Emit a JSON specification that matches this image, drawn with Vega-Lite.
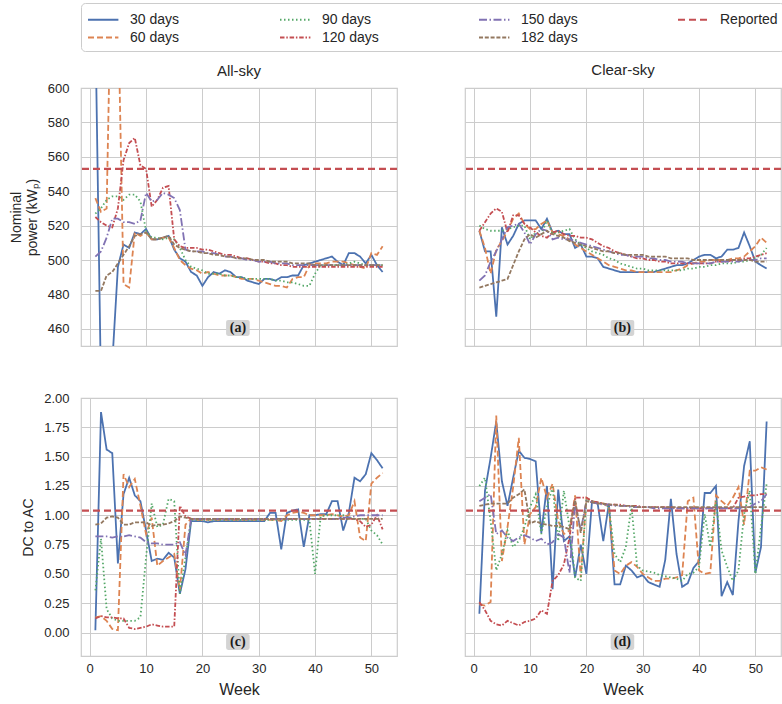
{
  "$schema": "https://vega.github.io/schema/vega-lite/v6.json",
  "padding": {"left": 8, "top": 2, "right": 4, "bottom": 4},
  "config": {
    "font": "Liberation Sans",
    "view": {"stroke": "#cccccc", "strokeWidth": 1.2},
    "axis": {
      "gridColor": "#cccccc", "gridWidth": 1, "domain": false, "ticks": false, "labelOverlap": false, "labelFlush": false,
      "labelFont": "Liberation Sans", "labelFontSize": 13, "labelColor": "#262626",
      "titleFont": "Liberation Sans", "titleFontSize": 14, "titleFontWeight": "normal", "titleColor": "#262626"
    },
    "title": {"font": "Liberation Sans", "fontSize": 15, "fontWeight": "normal", "color": "#262626", "frame": "group"},
    "legend": {"labelFont": "Liberation Sans", "labelColor": "#262626"}
  },
  "datasets": {
    "a": [
      {"s":"30 days","w":1,"v":637},{"s":"30 days","w":2,"v":425},{"s":"30 days","w":3,"v":415},{"s":"30 days","w":4,"v":440},{"s":"30 days","w":5,"v":496},{"s":"30 days","w":6,"v":509},{"s":"30 days","w":7,"v":507},{"s":"30 days","w":8,"v":516},{"s":"30 days","w":9,"v":515},{"s":"30 days","w":10,"v":518},
      {"s":"30 days","w":11,"v":512},{"s":"30 days","w":12,"v":512},{"s":"30 days","w":13,"v":513},{"s":"30 days","w":14,"v":514},{"s":"30 days","w":15,"v":506},{"s":"30 days","w":16,"v":501},{"s":"30 days","w":17,"v":499},{"s":"30 days","w":18,"v":493},{"s":"30 days","w":19,"v":491},{"s":"30 days","w":20,"v":485},
      {"s":"30 days","w":21,"v":490},{"s":"30 days","w":22,"v":493},{"s":"30 days","w":23,"v":492},{"s":"30 days","w":24,"v":494},{"s":"30 days","w":25,"v":493},{"s":"30 days","w":26,"v":490},{"s":"30 days","w":27,"v":490},{"s":"30 days","w":28,"v":488},{"s":"30 days","w":29,"v":487},{"s":"30 days","w":30,"v":486},
      {"s":"30 days","w":31,"v":489},{"s":"30 days","w":32,"v":489},{"s":"30 days","w":33,"v":488},{"s":"30 days","w":34,"v":490},{"s":"30 days","w":35,"v":490},{"s":"30 days","w":36,"v":491},{"s":"30 days","w":37,"v":491},{"s":"30 days","w":38,"v":497},{"s":"30 days","w":39,"v":498},{"s":"30 days","w":40,"v":499},
      {"s":"30 days","w":41,"v":500},{"s":"30 days","w":42,"v":501},{"s":"30 days","w":43,"v":502},{"s":"30 days","w":44,"v":499},{"s":"30 days","w":45,"v":497},{"s":"30 days","w":46,"v":504},{"s":"30 days","w":47,"v":504},{"s":"30 days","w":48,"v":502},{"s":"30 days","w":49,"v":498},{"s":"30 days","w":50,"v":503},
      {"s":"30 days","w":51,"v":497},{"s":"30 days","w":52,"v":493},
      {"s":"60 days","w":1,"v":536},{"s":"60 days","w":2,"v":528},{"s":"60 days","w":3,"v":530},{"s":"60 days","w":4,"v":700},{"s":"60 days","w":5,"v":652},{"s":"60 days","w":6,"v":486},{"s":"60 days","w":7,"v":484},{"s":"60 days","w":8,"v":516},{"s":"60 days","w":9,"v":514},{"s":"60 days","w":10,"v":516},
      {"s":"60 days","w":11,"v":512},{"s":"60 days","w":12,"v":512},{"s":"60 days","w":13,"v":513},{"s":"60 days","w":14,"v":513},{"s":"60 days","w":15,"v":507},{"s":"60 days","w":16,"v":500},{"s":"60 days","w":17,"v":497},{"s":"60 days","w":18,"v":495},{"s":"60 days","w":19,"v":494},{"s":"60 days","w":20,"v":492},
      {"s":"60 days","w":21,"v":493},{"s":"60 days","w":22,"v":492},{"s":"60 days","w":23,"v":491},{"s":"60 days","w":24,"v":491},{"s":"60 days","w":25,"v":491},{"s":"60 days","w":26,"v":490},{"s":"60 days","w":27,"v":489},{"s":"60 days","w":28,"v":489},{"s":"60 days","w":29,"v":489},{"s":"60 days","w":30,"v":488},
      {"s":"60 days","w":31,"v":487},{"s":"60 days","w":32,"v":486},{"s":"60 days","w":33,"v":485},{"s":"60 days","w":34,"v":485},{"s":"60 days","w":35,"v":484},{"s":"60 days","w":36,"v":489},{"s":"60 days","w":37,"v":490},{"s":"60 days","w":38,"v":490},{"s":"60 days","w":39,"v":497},{"s":"60 days","w":40,"v":498},
      {"s":"60 days","w":41,"v":498},{"s":"60 days","w":42,"v":498},{"s":"60 days","w":43,"v":499},{"s":"60 days","w":44,"v":499},{"s":"60 days","w":45,"v":499},{"s":"60 days","w":46,"v":498},{"s":"60 days","w":47,"v":497},{"s":"60 days","w":48,"v":496},{"s":"60 days","w":49,"v":495},{"s":"60 days","w":50,"v":504},
      {"s":"60 days","w":51,"v":503},{"s":"60 days","w":52,"v":508},
      {"s":"90 days","w":1,"v":527},{"s":"90 days","w":2,"v":530},{"s":"90 days","w":3,"v":535},{"s":"90 days","w":4,"v":537},{"s":"90 days","w":5,"v":537},{"s":"90 days","w":6,"v":535},{"s":"90 days","w":7,"v":538},{"s":"90 days","w":8,"v":538},{"s":"90 days","w":9,"v":534},{"s":"90 days","w":10,"v":517},
      {"s":"90 days","w":11,"v":513},{"s":"90 days","w":12,"v":513},{"s":"90 days","w":13,"v":512},{"s":"90 days","w":14,"v":513},{"s":"90 days","w":15,"v":512},{"s":"90 days","w":16,"v":507},{"s":"90 days","w":17,"v":500},{"s":"90 days","w":18,"v":496},{"s":"90 days","w":19,"v":495},{"s":"90 days","w":20,"v":494},
      {"s":"90 days","w":21,"v":492},{"s":"90 days","w":22,"v":492},{"s":"90 days","w":23,"v":492},{"s":"90 days","w":24,"v":491},{"s":"90 days","w":25,"v":491},{"s":"90 days","w":26,"v":490},{"s":"90 days","w":27,"v":490},{"s":"90 days","w":28,"v":489},{"s":"90 days","w":29,"v":489},{"s":"90 days","w":30,"v":489},
      {"s":"90 days","w":31,"v":489},{"s":"90 days","w":32,"v":489},{"s":"90 days","w":33,"v":488},{"s":"90 days","w":34,"v":488},{"s":"90 days","w":35,"v":487},{"s":"90 days","w":36,"v":487},{"s":"90 days","w":37,"v":486},{"s":"90 days","w":38,"v":485},{"s":"90 days","w":39,"v":485},{"s":"90 days","w":40,"v":492},
      {"s":"90 days","w":41,"v":497},{"s":"90 days","w":42,"v":497},{"s":"90 days","w":43,"v":497},{"s":"90 days","w":44,"v":497},{"s":"90 days","w":45,"v":497},{"s":"90 days","w":46,"v":498},{"s":"90 days","w":47,"v":499},{"s":"90 days","w":48,"v":498},{"s":"90 days","w":49,"v":497},{"s":"90 days","w":50,"v":497},
      {"s":"90 days","w":51,"v":497},{"s":"90 days","w":52,"v":497},
      {"s":"120 days","w":1,"v":525},{"s":"120 days","w":2,"v":522},{"s":"120 days","w":3,"v":520},{"s":"120 days","w":4,"v":519},{"s":"120 days","w":5,"v":530},{"s":"120 days","w":6,"v":558},{"s":"120 days","w":7,"v":568},{"s":"120 days","w":8,"v":571},{"s":"120 days","w":9,"v":555},{"s":"120 days","w":10,"v":553},
      {"s":"120 days","w":11,"v":531},{"s":"120 days","w":12,"v":535},{"s":"120 days","w":13,"v":542},{"s":"120 days","w":14,"v":543},{"s":"120 days","w":15,"v":512},{"s":"120 days","w":16,"v":508},{"s":"120 days","w":17,"v":507},{"s":"120 days","w":18,"v":507},{"s":"120 days","w":19,"v":507},{"s":"120 days","w":20,"v":506},
      {"s":"120 days","w":21,"v":506},{"s":"120 days","w":22,"v":505},{"s":"120 days","w":23,"v":504},{"s":"120 days","w":24,"v":503},{"s":"120 days","w":25,"v":503},{"s":"120 days","w":26,"v":502},{"s":"120 days","w":27,"v":501},{"s":"120 days","w":28,"v":501},{"s":"120 days","w":29,"v":500},{"s":"120 days","w":30,"v":499},
      {"s":"120 days","w":31,"v":499},{"s":"120 days","w":32,"v":498},{"s":"120 days","w":33,"v":498},{"s":"120 days","w":34,"v":497},{"s":"120 days","w":35,"v":497},{"s":"120 days","w":36,"v":496},{"s":"120 days","w":37,"v":496},{"s":"120 days","w":38,"v":496},{"s":"120 days","w":39,"v":496},{"s":"120 days","w":40,"v":496},
      {"s":"120 days","w":41,"v":496},{"s":"120 days","w":42,"v":496},{"s":"120 days","w":43,"v":496},{"s":"120 days","w":44,"v":496},{"s":"120 days","w":45,"v":496},{"s":"120 days","w":46,"v":496},{"s":"120 days","w":47,"v":496},{"s":"120 days","w":48,"v":496},{"s":"120 days","w":49,"v":496},{"s":"120 days","w":50,"v":496},
      {"s":"120 days","w":51,"v":496},{"s":"120 days","w":52,"v":496},
      {"s":"150 days","w":1,"v":502},{"s":"150 days","w":2,"v":505},{"s":"150 days","w":3,"v":513},{"s":"150 days","w":4,"v":524},{"s":"150 days","w":5,"v":524},{"s":"150 days","w":6,"v":522},{"s":"150 days","w":7,"v":522},{"s":"150 days","w":8,"v":521},{"s":"150 days","w":9,"v":523},{"s":"150 days","w":10,"v":539},
      {"s":"150 days","w":11,"v":534},{"s":"150 days","w":12,"v":535},{"s":"150 days","w":13,"v":539},{"s":"150 days","w":14,"v":538},{"s":"150 days","w":15,"v":536},{"s":"150 days","w":16,"v":529},{"s":"150 days","w":17,"v":506},{"s":"150 days","w":18,"v":505},{"s":"150 days","w":19,"v":505},{"s":"150 days","w":20,"v":505},
      {"s":"150 days","w":21,"v":504},{"s":"150 days","w":22,"v":504},{"s":"150 days","w":23,"v":503},{"s":"150 days","w":24,"v":502},{"s":"150 days","w":25,"v":502},{"s":"150 days","w":26,"v":501},{"s":"150 days","w":27,"v":501},{"s":"150 days","w":28,"v":500},{"s":"150 days","w":29,"v":500},{"s":"150 days","w":30,"v":499},
      {"s":"150 days","w":31,"v":499},{"s":"150 days","w":32,"v":499},{"s":"150 days","w":33,"v":498},{"s":"150 days","w":34,"v":498},{"s":"150 days","w":35,"v":498},{"s":"150 days","w":36,"v":497},{"s":"150 days","w":37,"v":497},{"s":"150 days","w":38,"v":497},{"s":"150 days","w":39,"v":497},{"s":"150 days","w":40,"v":497},
      {"s":"150 days","w":41,"v":497},{"s":"150 days","w":42,"v":497},{"s":"150 days","w":43,"v":497},{"s":"150 days","w":44,"v":497},{"s":"150 days","w":45,"v":497},{"s":"150 days","w":46,"v":497},{"s":"150 days","w":47,"v":497},{"s":"150 days","w":48,"v":497},{"s":"150 days","w":49,"v":497},{"s":"150 days","w":50,"v":497},
      {"s":"150 days","w":51,"v":497},{"s":"150 days","w":52,"v":497},
      {"s":"182 days","w":1,"v":482},{"s":"182 days","w":2,"v":482},{"s":"182 days","w":3,"v":491},{"s":"182 days","w":4,"v":493},{"s":"182 days","w":5,"v":498},{"s":"182 days","w":6,"v":503},{"s":"182 days","w":7,"v":508},{"s":"182 days","w":8,"v":514},{"s":"182 days","w":9,"v":515},{"s":"182 days","w":10,"v":516},
      {"s":"182 days","w":11,"v":512},{"s":"182 days","w":12,"v":512},{"s":"182 days","w":13,"v":513},{"s":"182 days","w":14,"v":514},{"s":"182 days","w":15,"v":509},{"s":"182 days","w":16,"v":507},{"s":"182 days","w":17,"v":506},{"s":"182 days","w":18,"v":505},{"s":"182 days","w":19,"v":505},{"s":"182 days","w":20,"v":504},
      {"s":"182 days","w":21,"v":504},{"s":"182 days","w":22,"v":503},{"s":"182 days","w":23,"v":503},{"s":"182 days","w":24,"v":502},{"s":"182 days","w":25,"v":502},{"s":"182 days","w":26,"v":501},{"s":"182 days","w":27,"v":501},{"s":"182 days","w":28,"v":501},{"s":"182 days","w":29,"v":500},{"s":"182 days","w":30,"v":500},
      {"s":"182 days","w":31,"v":500},{"s":"182 days","w":32,"v":499},{"s":"182 days","w":33,"v":499},{"s":"182 days","w":34,"v":499},{"s":"182 days","w":35,"v":499},{"s":"182 days","w":36,"v":498},{"s":"182 days","w":37,"v":498},{"s":"182 days","w":38,"v":498},{"s":"182 days","w":39,"v":498},{"s":"182 days","w":40,"v":497},
      {"s":"182 days","w":41,"v":497},{"s":"182 days","w":42,"v":497},{"s":"182 days","w":43,"v":497},{"s":"182 days","w":44,"v":497},{"s":"182 days","w":45,"v":497},{"s":"182 days","w":46,"v":497},{"s":"182 days","w":47,"v":497},{"s":"182 days","w":48,"v":497},{"s":"182 days","w":49,"v":497},{"s":"182 days","w":50,"v":497},
      {"s":"182 days","w":51,"v":497},{"s":"182 days","w":52,"v":497}
    ],
    "b": [
      {"s":"30 days","w":1,"v":517},{"s":"30 days","w":2,"v":505},{"s":"30 days","w":3,"v":505},{"s":"30 days","w":4,"v":467},{"s":"30 days","w":5,"v":519},{"s":"30 days","w":6,"v":509},{"s":"30 days","w":7,"v":514},{"s":"30 days","w":8,"v":521},{"s":"30 days","w":9,"v":523},{"s":"30 days","w":10,"v":523},
      {"s":"30 days","w":11,"v":523},{"s":"30 days","w":12,"v":518},{"s":"30 days","w":13,"v":524},{"s":"30 days","w":14,"v":516},{"s":"30 days","w":15,"v":517},{"s":"30 days","w":16,"v":515},{"s":"30 days","w":17,"v":515},{"s":"30 days","w":18,"v":507},{"s":"30 days","w":19,"v":509},{"s":"30 days","w":20,"v":502},
      {"s":"30 days","w":21,"v":502},{"s":"30 days","w":22,"v":501},{"s":"30 days","w":23,"v":496},{"s":"30 days","w":24,"v":495},{"s":"30 days","w":25,"v":494},{"s":"30 days","w":26,"v":493},{"s":"30 days","w":27,"v":493},{"s":"30 days","w":28,"v":493},{"s":"30 days","w":29,"v":493},{"s":"30 days","w":30,"v":493},
      {"s":"30 days","w":31,"v":493},{"s":"30 days","w":32,"v":493},{"s":"30 days","w":33,"v":494},{"s":"30 days","w":34,"v":495},{"s":"30 days","w":35,"v":496},{"s":"30 days","w":36,"v":497},{"s":"30 days","w":37,"v":497},{"s":"30 days","w":38,"v":498},{"s":"30 days","w":39,"v":500},{"s":"30 days","w":40,"v":502},
      {"s":"30 days","w":41,"v":503},{"s":"30 days","w":42,"v":503},{"s":"30 days","w":43,"v":501},{"s":"30 days","w":44,"v":502},{"s":"30 days","w":45,"v":506},{"s":"30 days","w":46,"v":506},{"s":"30 days","w":47,"v":507},{"s":"30 days","w":48,"v":516},{"s":"30 days","w":49,"v":508},{"s":"30 days","w":50,"v":499},
      {"s":"30 days","w":51,"v":497},{"s":"30 days","w":52,"v":495},
      {"s":"60 days","w":1,"v":517},{"s":"60 days","w":2,"v":507},{"s":"60 days","w":3,"v":492},{"s":"60 days","w":4,"v":506},{"s":"60 days","w":5,"v":511},{"s":"60 days","w":6,"v":517},{"s":"60 days","w":7,"v":524},{"s":"60 days","w":8,"v":527},{"s":"60 days","w":9,"v":521},{"s":"60 days","w":10,"v":518},
      {"s":"60 days","w":11,"v":518},{"s":"60 days","w":12,"v":521},{"s":"60 days","w":13,"v":523},{"s":"60 days","w":14,"v":516},{"s":"60 days","w":15,"v":515},{"s":"60 days","w":16,"v":514},{"s":"60 days","w":17,"v":512},{"s":"60 days","w":18,"v":509},{"s":"60 days","w":19,"v":507},{"s":"60 days","w":20,"v":505},
      {"s":"60 days","w":21,"v":503},{"s":"60 days","w":22,"v":501},{"s":"60 days","w":23,"v":499},{"s":"60 days","w":24,"v":497},{"s":"60 days","w":25,"v":496},{"s":"60 days","w":26,"v":495},{"s":"60 days","w":27,"v":494},{"s":"60 days","w":28,"v":494},{"s":"60 days","w":29,"v":493},{"s":"60 days","w":30,"v":493},
      {"s":"60 days","w":31,"v":493},{"s":"60 days","w":32,"v":493},{"s":"60 days","w":33,"v":493},{"s":"60 days","w":34,"v":493},{"s":"60 days","w":35,"v":493},{"s":"60 days","w":36,"v":494},{"s":"60 days","w":37,"v":495},{"s":"60 days","w":38,"v":497},{"s":"60 days","w":39,"v":498},{"s":"60 days","w":40,"v":499},
      {"s":"60 days","w":41,"v":499},{"s":"60 days","w":42,"v":500},{"s":"60 days","w":43,"v":500},{"s":"60 days","w":44,"v":500},{"s":"60 days","w":45,"v":500},{"s":"60 days","w":46,"v":501},{"s":"60 days","w":47,"v":501},{"s":"60 days","w":48,"v":502},{"s":"60 days","w":49,"v":505},{"s":"60 days","w":50,"v":508},
      {"s":"60 days","w":51,"v":513},{"s":"60 days","w":52,"v":510},
      {"s":"90 days","w":1,"v":520},{"s":"90 days","w":2,"v":518},{"s":"90 days","w":3,"v":517},{"s":"90 days","w":4,"v":517},{"s":"90 days","w":5,"v":517},{"s":"90 days","w":6,"v":518},{"s":"90 days","w":7,"v":519},{"s":"90 days","w":8,"v":520},{"s":"90 days","w":9,"v":520},{"s":"90 days","w":10,"v":512},
      {"s":"90 days","w":11,"v":516},{"s":"90 days","w":12,"v":515},{"s":"90 days","w":13,"v":523},{"s":"90 days","w":14,"v":515},{"s":"90 days","w":15,"v":516},{"s":"90 days","w":16,"v":517},{"s":"90 days","w":17,"v":518},{"s":"90 days","w":18,"v":512},{"s":"90 days","w":19,"v":509},{"s":"90 days","w":20,"v":507},
      {"s":"90 days","w":21,"v":505},{"s":"90 days","w":22,"v":504},{"s":"90 days","w":23,"v":503},{"s":"90 days","w":24,"v":501},{"s":"90 days","w":25,"v":500},{"s":"90 days","w":26,"v":498},{"s":"90 days","w":27,"v":497},{"s":"90 days","w":28,"v":496},{"s":"90 days","w":29,"v":495},{"s":"90 days","w":30,"v":495},
      {"s":"90 days","w":31,"v":494},{"s":"90 days","w":32,"v":494},{"s":"90 days","w":33,"v":494},{"s":"90 days","w":34,"v":494},{"s":"90 days","w":35,"v":494},{"s":"90 days","w":36,"v":494},{"s":"90 days","w":37,"v":494},{"s":"90 days","w":38,"v":495},{"s":"90 days","w":39,"v":495},{"s":"90 days","w":40,"v":496},
      {"s":"90 days","w":41,"v":496},{"s":"90 days","w":42,"v":497},{"s":"90 days","w":43,"v":497},{"s":"90 days","w":44,"v":498},{"s":"90 days","w":45,"v":498},{"s":"90 days","w":46,"v":498},{"s":"90 days","w":47,"v":499},{"s":"90 days","w":48,"v":499},{"s":"90 days","w":49,"v":500},{"s":"90 days","w":50,"v":501},
      {"s":"90 days","w":51,"v":503},{"s":"90 days","w":52,"v":507},
      {"s":"120 days","w":1,"v":517},{"s":"120 days","w":2,"v":522},{"s":"120 days","w":3,"v":527},{"s":"120 days","w":4,"v":530},{"s":"120 days","w":5,"v":528},{"s":"120 days","w":6,"v":516},{"s":"120 days","w":7,"v":526},{"s":"120 days","w":8,"v":526},{"s":"120 days","w":9,"v":521},{"s":"120 days","w":10,"v":519},
      {"s":"120 days","w":11,"v":516},{"s":"120 days","w":12,"v":514},{"s":"120 days","w":13,"v":513},{"s":"120 days","w":14,"v":516},{"s":"120 days","w":15,"v":517},{"s":"120 days","w":16,"v":515},{"s":"120 days","w":17,"v":514},{"s":"120 days","w":18,"v":514},{"s":"120 days","w":19,"v":513},{"s":"120 days","w":20,"v":513},
      {"s":"120 days","w":21,"v":512},{"s":"120 days","w":22,"v":510},{"s":"120 days","w":23,"v":508},{"s":"120 days","w":24,"v":507},{"s":"120 days","w":25,"v":505},{"s":"120 days","w":26,"v":504},{"s":"120 days","w":27,"v":503},{"s":"120 days","w":28,"v":502},{"s":"120 days","w":29,"v":501},{"s":"120 days","w":30,"v":501},
      {"s":"120 days","w":31,"v":500},{"s":"120 days","w":32,"v":500},{"s":"120 days","w":33,"v":499},{"s":"120 days","w":34,"v":499},{"s":"120 days","w":35,"v":498},{"s":"120 days","w":36,"v":498},{"s":"120 days","w":37,"v":498},{"s":"120 days","w":38,"v":498},{"s":"120 days","w":39,"v":498},{"s":"120 days","w":40,"v":498},
      {"s":"120 days","w":41,"v":498},{"s":"120 days","w":42,"v":498},{"s":"120 days","w":43,"v":499},{"s":"120 days","w":44,"v":499},{"s":"120 days","w":45,"v":499},{"s":"120 days","w":46,"v":500},{"s":"120 days","w":47,"v":500},{"s":"120 days","w":48,"v":501},{"s":"120 days","w":49,"v":501},{"s":"120 days","w":50,"v":502},
      {"s":"120 days","w":51,"v":503},{"s":"120 days","w":52,"v":504},
      {"s":"150 days","w":1,"v":488},{"s":"150 days","w":2,"v":491},{"s":"150 days","w":3,"v":499},{"s":"150 days","w":4,"v":505},{"s":"150 days","w":5,"v":512},{"s":"150 days","w":6,"v":519},{"s":"150 days","w":7,"v":520},{"s":"150 days","w":8,"v":521},{"s":"150 days","w":9,"v":516},{"s":"150 days","w":10,"v":509},
      {"s":"150 days","w":11,"v":515},{"s":"150 days","w":12,"v":518},{"s":"150 days","w":13,"v":517},{"s":"150 days","w":14,"v":512},{"s":"150 days","w":15,"v":513},{"s":"150 days","w":16,"v":512},{"s":"150 days","w":17,"v":512},{"s":"150 days","w":18,"v":511},{"s":"150 days","w":19,"v":510},{"s":"150 days","w":20,"v":509},
      {"s":"150 days","w":21,"v":508},{"s":"150 days","w":22,"v":507},{"s":"150 days","w":23,"v":506},{"s":"150 days","w":24,"v":505},{"s":"150 days","w":25,"v":504},{"s":"150 days","w":26,"v":503},{"s":"150 days","w":27,"v":503},{"s":"150 days","w":28,"v":502},{"s":"150 days","w":29,"v":502},{"s":"150 days","w":30,"v":502},
      {"s":"150 days","w":31,"v":501},{"s":"150 days","w":32,"v":501},{"s":"150 days","w":33,"v":500},{"s":"150 days","w":34,"v":500},{"s":"150 days","w":35,"v":499},{"s":"150 days","w":36,"v":499},{"s":"150 days","w":37,"v":499},{"s":"150 days","w":38,"v":498},{"s":"150 days","w":39,"v":498},{"s":"150 days","w":40,"v":498},
      {"s":"150 days","w":41,"v":498},{"s":"150 days","w":42,"v":498},{"s":"150 days","w":43,"v":499},{"s":"150 days","w":44,"v":499},{"s":"150 days","w":45,"v":499},{"s":"150 days","w":46,"v":499},{"s":"150 days","w":47,"v":499},{"s":"150 days","w":48,"v":500},{"s":"150 days","w":49,"v":500},{"s":"150 days","w":50,"v":500},
      {"s":"150 days","w":51,"v":501},{"s":"150 days","w":52,"v":501},
      {"s":"182 days","w":1,"v":484},{"s":"182 days","w":2,"v":485},{"s":"182 days","w":3,"v":486},{"s":"182 days","w":4,"v":487},{"s":"182 days","w":5,"v":488},{"s":"182 days","w":6,"v":489},{"s":"182 days","w":7,"v":497},{"s":"182 days","w":8,"v":505},{"s":"182 days","w":9,"v":512},{"s":"182 days","w":10,"v":515},
      {"s":"182 days","w":11,"v":513},{"s":"182 days","w":12,"v":515},{"s":"182 days","w":13,"v":517},{"s":"182 days","w":14,"v":515},{"s":"182 days","w":15,"v":514},{"s":"182 days","w":16,"v":513},{"s":"182 days","w":17,"v":511},{"s":"182 days","w":18,"v":510},{"s":"182 days","w":19,"v":509},{"s":"182 days","w":20,"v":508},
      {"s":"182 days","w":21,"v":507},{"s":"182 days","w":22,"v":506},{"s":"182 days","w":23,"v":505},{"s":"182 days","w":24,"v":505},{"s":"182 days","w":25,"v":504},{"s":"182 days","w":26,"v":504},{"s":"182 days","w":27,"v":503},{"s":"182 days","w":28,"v":503},{"s":"182 days","w":29,"v":503},{"s":"182 days","w":30,"v":503},
      {"s":"182 days","w":31,"v":502},{"s":"182 days","w":32,"v":502},{"s":"182 days","w":33,"v":502},{"s":"182 days","w":34,"v":502},{"s":"182 days","w":35,"v":501},{"s":"182 days","w":36,"v":501},{"s":"182 days","w":37,"v":501},{"s":"182 days","w":38,"v":501},{"s":"182 days","w":39,"v":500},{"s":"182 days","w":40,"v":500},
      {"s":"182 days","w":41,"v":500},{"s":"182 days","w":42,"v":500},{"s":"182 days","w":43,"v":500},{"s":"182 days","w":44,"v":500},{"s":"182 days","w":45,"v":500},{"s":"182 days","w":46,"v":500},{"s":"182 days","w":47,"v":500},{"s":"182 days","w":48,"v":500},{"s":"182 days","w":49,"v":500},{"s":"182 days","w":50,"v":499},
      {"s":"182 days","w":51,"v":499},{"s":"182 days","w":52,"v":499}
    ],
    "c": [
      {"s":"30 days","w":1,"v":0.02},{"s":"30 days","w":2,"v":1.88},{"s":"30 days","w":3,"v":1.56},{"s":"30 days","w":4,"v":1.53},{"s":"30 days","w":5,"v":0.59},{"s":"30 days","w":6,"v":1.18},{"s":"30 days","w":7,"v":1.32},{"s":"30 days","w":8,"v":1.17},{"s":"30 days","w":9,"v":1.12},{"s":"30 days","w":10,"v":0.87},
      {"s":"30 days","w":11,"v":0.61},{"s":"30 days","w":12,"v":0.63},{"s":"30 days","w":13,"v":0.62},{"s":"30 days","w":14,"v":0.68},{"s":"30 days","w":15,"v":0.64},{"s":"30 days","w":16,"v":0.33},{"s":"30 days","w":17,"v":0.54},{"s":"30 days","w":18,"v":0.95},{"s":"30 days","w":19,"v":0.95},{"s":"30 days","w":20,"v":0.95},
      {"s":"30 days","w":21,"v":0.94},{"s":"30 days","w":22,"v":0.95},{"s":"30 days","w":23,"v":0.95},{"s":"30 days","w":24,"v":0.95},{"s":"30 days","w":25,"v":0.95},{"s":"30 days","w":26,"v":0.95},{"s":"30 days","w":27,"v":0.95},{"s":"30 days","w":28,"v":0.95},{"s":"30 days","w":29,"v":0.95},{"s":"30 days","w":30,"v":0.95},
      {"s":"30 days","w":31,"v":0.95},{"s":"30 days","w":32,"v":1.02},{"s":"30 days","w":33,"v":1.02},{"s":"30 days","w":34,"v":0.71},{"s":"30 days","w":35,"v":1.02},{"s":"30 days","w":36,"v":1.04},{"s":"30 days","w":37,"v":1.05},{"s":"30 days","w":38,"v":0.73},{"s":"30 days","w":39,"v":1.0},{"s":"30 days","w":40,"v":1.0},
      {"s":"30 days","w":41,"v":1.01},{"s":"30 days","w":42,"v":1.01},{"s":"30 days","w":43,"v":1.12},{"s":"30 days","w":44,"v":1.12},{"s":"30 days","w":45,"v":0.87},{"s":"30 days","w":46,"v":1.02},{"s":"30 days","w":47,"v":1.32},{"s":"30 days","w":48,"v":1.29},{"s":"30 days","w":49,"v":1.35},{"s":"30 days","w":50,"v":1.53},
      {"s":"30 days","w":51,"v":1.47},{"s":"30 days","w":52,"v":1.4},
      {"s":"60 days","w":1,"v":0.13},{"s":"60 days","w":2,"v":0.14},{"s":"60 days","w":3,"v":0.1},{"s":"60 days","w":4,"v":0.03},{"s":"60 days","w":5,"v":0.02},{"s":"60 days","w":6,"v":1.35},{"s":"60 days","w":7,"v":1.24},{"s":"60 days","w":8,"v":1.31},{"s":"60 days","w":9,"v":1.08},{"s":"60 days","w":10,"v":0.84},
      {"s":"60 days","w":11,"v":0.98},{"s":"60 days","w":12,"v":0.57},{"s":"60 days","w":13,"v":0.61},{"s":"60 days","w":14,"v":0.64},{"s":"60 days","w":15,"v":0.67},{"s":"60 days","w":16,"v":0.36},{"s":"60 days","w":17,"v":0.92},{"s":"60 days","w":18,"v":0.97},{"s":"60 days","w":19,"v":0.96},{"s":"60 days","w":20,"v":0.96},
      {"s":"60 days","w":21,"v":0.96},{"s":"60 days","w":22,"v":0.96},{"s":"60 days","w":23,"v":0.96},{"s":"60 days","w":24,"v":0.96},{"s":"60 days","w":25,"v":0.96},{"s":"60 days","w":26,"v":0.96},{"s":"60 days","w":27,"v":0.96},{"s":"60 days","w":28,"v":0.96},{"s":"60 days","w":29,"v":0.96},{"s":"60 days","w":30,"v":0.96},
      {"s":"60 days","w":31,"v":0.96},{"s":"60 days","w":32,"v":0.96},{"s":"60 days","w":33,"v":0.96},{"s":"60 days","w":34,"v":0.95},{"s":"60 days","w":35,"v":1.0},{"s":"60 days","w":36,"v":1.02},{"s":"60 days","w":37,"v":1.03},{"s":"60 days","w":38,"v":1.02},{"s":"60 days","w":39,"v":1.0},{"s":"60 days","w":40,"v":1.0},
      {"s":"60 days","w":41,"v":1.0},{"s":"60 days","w":42,"v":1.0},{"s":"60 days","w":43,"v":1.01},{"s":"60 days","w":44,"v":1.0},{"s":"60 days","w":45,"v":0.99},{"s":"60 days","w":46,"v":1.0},{"s":"60 days","w":47,"v":1.12},{"s":"60 days","w":48,"v":0.81},{"s":"60 days","w":49,"v":0.78},{"s":"60 days","w":50,"v":1.27},
      {"s":"60 days","w":51,"v":1.32},{"s":"60 days","w":52,"v":1.36},
      {"s":"90 days","w":1,"v":0.36},{"s":"90 days","w":2,"v":0.8},{"s":"90 days","w":3,"v":0.2},{"s":"90 days","w":4,"v":0.12},{"s":"90 days","w":5,"v":0.1},{"s":"90 days","w":6,"v":0.1},{"s":"90 days","w":7,"v":0.1},{"s":"90 days","w":8,"v":0.1},{"s":"90 days","w":9,"v":0.13},{"s":"90 days","w":10,"v":0.64},
      {"s":"90 days","w":11,"v":1.1},{"s":"90 days","w":12,"v":0.9},{"s":"90 days","w":13,"v":0.92},{"s":"90 days","w":14,"v":1.14},{"s":"90 days","w":15,"v":1.12},{"s":"90 days","w":16,"v":0.33},{"s":"90 days","w":17,"v":0.64},{"s":"90 days","w":18,"v":0.96},{"s":"90 days","w":19,"v":0.96},{"s":"90 days","w":20,"v":0.96},
      {"s":"90 days","w":21,"v":0.96},{"s":"90 days","w":22,"v":0.96},{"s":"90 days","w":23,"v":0.96},{"s":"90 days","w":24,"v":0.96},{"s":"90 days","w":25,"v":0.96},{"s":"90 days","w":26,"v":0.96},{"s":"90 days","w":27,"v":0.96},{"s":"90 days","w":28,"v":0.96},{"s":"90 days","w":29,"v":0.96},{"s":"90 days","w":30,"v":0.96},
      {"s":"90 days","w":31,"v":0.96},{"s":"90 days","w":32,"v":0.96},{"s":"90 days","w":33,"v":0.96},{"s":"90 days","w":34,"v":0.96},{"s":"90 days","w":35,"v":0.96},{"s":"90 days","w":36,"v":0.96},{"s":"90 days","w":37,"v":0.96},{"s":"90 days","w":38,"v":0.96},{"s":"90 days","w":39,"v":0.96},{"s":"90 days","w":40,"v":0.5},
      {"s":"90 days","w":41,"v":0.99},{"s":"90 days","w":42,"v":1.0},{"s":"90 days","w":43,"v":1.0},{"s":"90 days","w":44,"v":1.0},{"s":"90 days","w":45,"v":1.0},{"s":"90 days","w":46,"v":0.98},{"s":"90 days","w":47,"v":0.97},{"s":"90 days","w":48,"v":0.97},{"s":"90 days","w":49,"v":0.97},{"s":"90 days","w":50,"v":0.87},
      {"s":"90 days","w":51,"v":0.83},{"s":"90 days","w":52,"v":0.75},
      {"s":"120 days","w":1,"v":0.12},{"s":"120 days","w":2,"v":0.14},{"s":"120 days","w":3,"v":0.13},{"s":"120 days","w":4,"v":0.13},{"s":"120 days","w":5,"v":0.12},{"s":"120 days","w":6,"v":0.12},{"s":"120 days","w":7,"v":0.04},{"s":"120 days","w":8,"v":0.03},{"s":"120 days","w":9,"v":0.04},{"s":"120 days","w":10,"v":0.05},
      {"s":"120 days","w":11,"v":0.07},{"s":"120 days","w":12,"v":0.06},{"s":"120 days","w":13,"v":0.05},{"s":"120 days","w":14,"v":0.05},{"s":"120 days","w":15,"v":0.05},{"s":"120 days","w":16,"v":1.08},{"s":"120 days","w":17,"v":0.99},{"s":"120 days","w":18,"v":0.97},{"s":"120 days","w":19,"v":0.97},{"s":"120 days","w":20,"v":0.97},
      {"s":"120 days","w":21,"v":0.97},{"s":"120 days","w":22,"v":0.97},{"s":"120 days","w":23,"v":0.97},{"s":"120 days","w":24,"v":0.97},{"s":"120 days","w":25,"v":0.97},{"s":"120 days","w":26,"v":0.97},{"s":"120 days","w":27,"v":0.97},{"s":"120 days","w":28,"v":0.97},{"s":"120 days","w":29,"v":0.97},{"s":"120 days","w":30,"v":0.97},
      {"s":"120 days","w":31,"v":0.97},{"s":"120 days","w":32,"v":0.97},{"s":"120 days","w":33,"v":0.97},{"s":"120 days","w":34,"v":0.97},{"s":"120 days","w":35,"v":0.97},{"s":"120 days","w":36,"v":0.97},{"s":"120 days","w":37,"v":0.97},{"s":"120 days","w":38,"v":0.97},{"s":"120 days","w":39,"v":0.97},{"s":"120 days","w":40,"v":0.97},
      {"s":"120 days","w":41,"v":0.97},{"s":"120 days","w":42,"v":0.97},{"s":"120 days","w":43,"v":0.97},{"s":"120 days","w":44,"v":0.97},{"s":"120 days","w":45,"v":0.97},{"s":"120 days","w":46,"v":0.97},{"s":"120 days","w":47,"v":0.97},{"s":"120 days","w":48,"v":0.95},{"s":"120 days","w":49,"v":0.9},{"s":"120 days","w":50,"v":0.92},
      {"s":"120 days","w":51,"v":1.0},{"s":"120 days","w":52,"v":0.88},
      {"s":"150 days","w":1,"v":0.82},{"s":"150 days","w":2,"v":0.82},{"s":"150 days","w":3,"v":0.82},{"s":"150 days","w":4,"v":0.81},{"s":"150 days","w":5,"v":0.82},{"s":"150 days","w":6,"v":0.82},{"s":"150 days","w":7,"v":0.83},{"s":"150 days","w":8,"v":0.82},{"s":"150 days","w":9,"v":0.81},{"s":"150 days","w":10,"v":0.77},
      {"s":"150 days","w":11,"v":0.76},{"s":"150 days","w":12,"v":0.76},{"s":"150 days","w":13,"v":0.75},{"s":"150 days","w":14,"v":0.75},{"s":"150 days","w":15,"v":0.75},{"s":"150 days","w":16,"v":0.77},{"s":"150 days","w":17,"v":0.66},{"s":"150 days","w":18,"v":0.97},{"s":"150 days","w":19,"v":0.97},{"s":"150 days","w":20,"v":0.97},
      {"s":"150 days","w":21,"v":0.97},{"s":"150 days","w":22,"v":0.97},{"s":"150 days","w":23,"v":0.97},{"s":"150 days","w":24,"v":0.97},{"s":"150 days","w":25,"v":0.97},{"s":"150 days","w":26,"v":0.97},{"s":"150 days","w":27,"v":0.97},{"s":"150 days","w":28,"v":0.97},{"s":"150 days","w":29,"v":0.97},{"s":"150 days","w":30,"v":0.97},
      {"s":"150 days","w":31,"v":0.97},{"s":"150 days","w":32,"v":0.97},{"s":"150 days","w":33,"v":0.97},{"s":"150 days","w":34,"v":0.97},{"s":"150 days","w":35,"v":0.97},{"s":"150 days","w":36,"v":0.97},{"s":"150 days","w":37,"v":0.97},{"s":"150 days","w":38,"v":0.97},{"s":"150 days","w":39,"v":0.97},{"s":"150 days","w":40,"v":0.97},
      {"s":"150 days","w":41,"v":0.97},{"s":"150 days","w":42,"v":0.97},{"s":"150 days","w":43,"v":0.97},{"s":"150 days","w":44,"v":0.97},{"s":"150 days","w":45,"v":0.98},{"s":"150 days","w":46,"v":0.98},{"s":"150 days","w":47,"v":0.99},{"s":"150 days","w":48,"v":1.0},{"s":"150 days","w":49,"v":1.0},{"s":"150 days","w":50,"v":1.0},
      {"s":"150 days","w":51,"v":1.0},{"s":"150 days","w":52,"v":1.0},
      {"s":"182 days","w":1,"v":0.92},{"s":"182 days","w":2,"v":0.93},{"s":"182 days","w":3,"v":0.98},{"s":"182 days","w":4,"v":0.99},{"s":"182 days","w":5,"v":0.98},{"s":"182 days","w":6,"v":0.92},{"s":"182 days","w":7,"v":0.92},{"s":"182 days","w":8,"v":0.94},{"s":"182 days","w":9,"v":0.94},{"s":"182 days","w":10,"v":0.94},
      {"s":"182 days","w":11,"v":0.91},{"s":"182 days","w":12,"v":0.92},{"s":"182 days","w":13,"v":0.92},{"s":"182 days","w":14,"v":0.93},{"s":"182 days","w":15,"v":0.95},{"s":"182 days","w":16,"v":0.99},{"s":"182 days","w":17,"v":0.98},{"s":"182 days","w":18,"v":0.97},{"s":"182 days","w":19,"v":0.97},{"s":"182 days","w":20,"v":0.97},
      {"s":"182 days","w":21,"v":0.97},{"s":"182 days","w":22,"v":0.97},{"s":"182 days","w":23,"v":0.97},{"s":"182 days","w":24,"v":0.97},{"s":"182 days","w":25,"v":0.97},{"s":"182 days","w":26,"v":0.97},{"s":"182 days","w":27,"v":0.97},{"s":"182 days","w":28,"v":0.97},{"s":"182 days","w":29,"v":0.97},{"s":"182 days","w":30,"v":0.97},
      {"s":"182 days","w":31,"v":0.97},{"s":"182 days","w":32,"v":0.97},{"s":"182 days","w":33,"v":0.97},{"s":"182 days","w":34,"v":0.97},{"s":"182 days","w":35,"v":0.97},{"s":"182 days","w":36,"v":0.97},{"s":"182 days","w":37,"v":0.97},{"s":"182 days","w":38,"v":0.97},{"s":"182 days","w":39,"v":0.97},{"s":"182 days","w":40,"v":0.97},
      {"s":"182 days","w":41,"v":0.97},{"s":"182 days","w":42,"v":0.97},{"s":"182 days","w":43,"v":0.97},{"s":"182 days","w":44,"v":0.97},{"s":"182 days","w":45,"v":0.97},{"s":"182 days","w":46,"v":0.97},{"s":"182 days","w":47,"v":0.97},{"s":"182 days","w":48,"v":0.97},{"s":"182 days","w":49,"v":0.97},{"s":"182 days","w":50,"v":0.97},
      {"s":"182 days","w":51,"v":0.97},{"s":"182 days","w":52,"v":0.97}
    ],
    "d": [
      {"s":"30 days","w":1,"v":0.16},{"s":"30 days","w":2,"v":1.21},{"s":"30 days","w":3,"v":1.49},{"s":"30 days","w":4,"v":1.8},{"s":"30 days","w":5,"v":1.29},{"s":"30 days","w":6,"v":1.08},{"s":"30 days","w":7,"v":1.32},{"s":"30 days","w":8,"v":1.55},{"s":"30 days","w":9,"v":1.49},{"s":"30 days","w":10,"v":1.48},
      {"s":"30 days","w":11,"v":1.46},{"s":"30 days","w":12,"v":0.85},{"s":"30 days","w":13,"v":1.25},{"s":"30 days","w":14,"v":0.37},{"s":"30 days","w":15,"v":1.22},{"s":"30 days","w":16,"v":0.78},{"s":"30 days","w":17,"v":0.82},{"s":"30 days","w":18,"v":0.47},{"s":"30 days","w":19,"v":0.75},{"s":"30 days","w":20,"v":0.5},
      {"s":"30 days","w":21,"v":1.12},{"s":"30 days","w":22,"v":1.1},{"s":"30 days","w":23,"v":0.78},{"s":"30 days","w":24,"v":1.1},{"s":"30 days","w":25,"v":0.41},{"s":"30 days","w":26,"v":0.41},{"s":"30 days","w":27,"v":0.57},{"s":"30 days","w":28,"v":0.53},{"s":"30 days","w":29,"v":0.47},{"s":"30 days","w":30,"v":0.49},
      {"s":"30 days","w":31,"v":0.43},{"s":"30 days","w":32,"v":0.41},{"s":"30 days","w":33,"v":0.39},{"s":"30 days","w":34,"v":0.62},{"s":"30 days","w":35,"v":1.14},{"s":"30 days","w":36,"v":0.67},{"s":"30 days","w":37,"v":0.39},{"s":"30 days","w":38,"v":0.42},{"s":"30 days","w":39,"v":0.55},{"s":"30 days","w":40,"v":0.61},
      {"s":"30 days","w":41,"v":1.19},{"s":"30 days","w":42,"v":1.19},{"s":"30 days","w":43,"v":1.25},{"s":"30 days","w":44,"v":0.31},{"s":"30 days","w":45,"v":0.43},{"s":"30 days","w":46,"v":0.32},{"s":"30 days","w":47,"v":0.95},{"s":"30 days","w":48,"v":1.42},{"s":"30 days","w":49,"v":1.63},{"s":"30 days","w":50,"v":0.51},
      {"s":"30 days","w":51,"v":0.73},{"s":"30 days","w":52,"v":1.8},
      {"s":"60 days","w":1,"v":0.24},{"s":"60 days","w":2,"v":0.23},{"s":"60 days","w":3,"v":0.26},{"s":"60 days","w":4,"v":1.85},{"s":"60 days","w":5,"v":0.61},{"s":"60 days","w":6,"v":0.9},{"s":"60 days","w":7,"v":1.24},{"s":"60 days","w":8,"v":1.66},{"s":"60 days","w":9,"v":0.75},{"s":"60 days","w":10,"v":1.01},
      {"s":"60 days","w":11,"v":1.07},{"s":"60 days","w":12,"v":1.32},{"s":"60 days","w":13,"v":1.15},{"s":"60 days","w":14,"v":1.27},{"s":"60 days","w":15,"v":0.95},{"s":"60 days","w":16,"v":0.84},{"s":"60 days","w":17,"v":0.87},{"s":"60 days","w":18,"v":1.17},{"s":"60 days","w":19,"v":0.47},{"s":"60 days","w":20,"v":1.15},
      {"s":"60 days","w":21,"v":1.12},{"s":"60 days","w":22,"v":1.11},{"s":"60 days","w":23,"v":1.1},{"s":"60 days","w":24,"v":1.07},{"s":"60 days","w":25,"v":0.53},{"s":"60 days","w":26,"v":0.5},{"s":"60 days","w":27,"v":0.57},{"s":"60 days","w":28,"v":0.6},{"s":"60 days","w":29,"v":0.56},{"s":"60 days","w":30,"v":0.5},
      {"s":"60 days","w":31,"v":0.47},{"s":"60 days","w":32,"v":0.44},{"s":"60 days","w":33,"v":0.44},{"s":"60 days","w":34,"v":0.46},{"s":"60 days","w":35,"v":0.46},{"s":"60 days","w":36,"v":0.47},{"s":"60 days","w":37,"v":0.49},{"s":"60 days","w":38,"v":1.12},{"s":"60 days","w":39,"v":1.15},{"s":"60 days","w":40,"v":0.53},
      {"s":"60 days","w":41,"v":0.5},{"s":"60 days","w":42,"v":0.51},{"s":"60 days","w":43,"v":1.17},{"s":"60 days","w":44,"v":1.12},{"s":"60 days","w":45,"v":1.08},{"s":"60 days","w":46,"v":1.15},{"s":"60 days","w":47,"v":1.24},{"s":"60 days","w":48,"v":0.92},{"s":"60 days","w":49,"v":1.38},{"s":"60 days","w":50,"v":1.38},
      {"s":"60 days","w":51,"v":1.41},{"s":"60 days","w":52,"v":1.39},
      {"s":"90 days","w":1,"v":1.25},{"s":"90 days","w":2,"v":1.32},{"s":"90 days","w":3,"v":0.95},{"s":"90 days","w":4,"v":0.53},{"s":"90 days","w":5,"v":0.67},{"s":"90 days","w":6,"v":0.87},{"s":"90 days","w":7,"v":0.73},{"s":"90 days","w":8,"v":0.78},{"s":"90 days","w":9,"v":0.9},{"s":"90 days","w":10,"v":1.07},
      {"s":"90 days","w":11,"v":1.18},{"s":"90 days","w":12,"v":0.84},{"s":"90 days","w":13,"v":1.07},{"s":"90 days","w":14,"v":1.24},{"s":"90 days","w":15,"v":0.78},{"s":"90 days","w":16,"v":1.21},{"s":"90 days","w":17,"v":0.9},{"s":"90 days","w":18,"v":0.47},{"s":"90 days","w":19,"v":0.44},{"s":"90 days","w":20,"v":1.14},
      {"s":"90 days","w":21,"v":1.12},{"s":"90 days","w":22,"v":1.11},{"s":"90 days","w":23,"v":1.1},{"s":"90 days","w":24,"v":1.07},{"s":"90 days","w":25,"v":0.67},{"s":"90 days","w":26,"v":0.6},{"s":"90 days","w":27,"v":0.73},{"s":"90 days","w":28,"v":1.08},{"s":"90 days","w":29,"v":0.57},{"s":"90 days","w":30,"v":0.53},
      {"s":"90 days","w":31,"v":0.52},{"s":"90 days","w":32,"v":0.51},{"s":"90 days","w":33,"v":0.49},{"s":"90 days","w":34,"v":0.48},{"s":"90 days","w":35,"v":0.47},{"s":"90 days","w":36,"v":0.46},{"s":"90 days","w":37,"v":0.44},{"s":"90 days","w":38,"v":0.5},{"s":"90 days","w":39,"v":0.51},{"s":"90 days","w":40,"v":0.56},
      {"s":"90 days","w":41,"v":1.01},{"s":"90 days","w":42,"v":0.73},{"s":"90 days","w":43,"v":1.12},{"s":"90 days","w":44,"v":0.7},{"s":"90 days","w":45,"v":0.56},{"s":"90 days","w":46,"v":0.44},{"s":"90 days","w":47,"v":0.53},{"s":"90 days","w":48,"v":1.01},{"s":"90 days","w":49,"v":1.21},{"s":"90 days","w":50,"v":0.5},
      {"s":"90 days","w":51,"v":0.9},{"s":"90 days","w":52,"v":1.27},
      {"s":"120 days","w":1,"v":0.26},{"s":"120 days","w":2,"v":0.19},{"s":"120 days","w":3,"v":0.1},{"s":"120 days","w":4,"v":0.07},{"s":"120 days","w":5,"v":0.06},{"s":"120 days","w":6,"v":0.1},{"s":"120 days","w":7,"v":0.08},{"s":"120 days","w":8,"v":0.06},{"s":"120 days","w":9,"v":0.09},{"s":"120 days","w":10,"v":0.1},
      {"s":"120 days","w":11,"v":0.12},{"s":"120 days","w":12,"v":0.19},{"s":"120 days","w":13,"v":0.16},{"s":"120 days","w":14,"v":0.44},{"s":"120 days","w":15,"v":0.49},{"s":"120 days","w":16,"v":0.58},{"s":"120 days","w":17,"v":0.81},{"s":"120 days","w":18,"v":1.15},{"s":"120 days","w":19,"v":1.15},{"s":"120 days","w":20,"v":1.15},
      {"s":"120 days","w":21,"v":1.12},{"s":"120 days","w":22,"v":1.11},{"s":"120 days","w":23,"v":1.1},{"s":"120 days","w":24,"v":1.09},{"s":"120 days","w":25,"v":1.09},{"s":"120 days","w":26,"v":1.09},{"s":"120 days","w":27,"v":1.08},{"s":"120 days","w":28,"v":1.08},{"s":"120 days","w":29,"v":1.08},{"s":"120 days","w":30,"v":1.07},
      {"s":"120 days","w":31,"v":1.07},{"s":"120 days","w":32,"v":1.07},{"s":"120 days","w":33,"v":1.07},{"s":"120 days","w":34,"v":1.07},{"s":"120 days","w":35,"v":1.07},{"s":"120 days","w":36,"v":1.06},{"s":"120 days","w":37,"v":1.06},{"s":"120 days","w":38,"v":1.06},{"s":"120 days","w":39,"v":1.06},{"s":"120 days","w":40,"v":1.06},
      {"s":"120 days","w":41,"v":1.06},{"s":"120 days","w":42,"v":1.06},{"s":"120 days","w":43,"v":1.06},{"s":"120 days","w":44,"v":1.06},{"s":"120 days","w":45,"v":1.06},{"s":"120 days","w":46,"v":1.06},{"s":"120 days","w":47,"v":1.15},{"s":"120 days","w":48,"v":1.16},{"s":"120 days","w":49,"v":1.17},{"s":"120 days","w":50,"v":1.17},
      {"s":"120 days","w":51,"v":1.18},{"s":"120 days","w":52,"v":1.18},
      {"s":"150 days","w":1,"v":1.12},{"s":"150 days","w":2,"v":1.15},{"s":"150 days","w":3,"v":1.18},{"s":"150 days","w":4,"v":0.84},{"s":"150 days","w":5,"v":0.87},{"s":"150 days","w":6,"v":0.81},{"s":"150 days","w":7,"v":0.78},{"s":"150 days","w":8,"v":0.81},{"s":"150 days","w":9,"v":0.83},{"s":"150 days","w":10,"v":0.81},
      {"s":"150 days","w":11,"v":0.78},{"s":"150 days","w":12,"v":0.8},{"s":"150 days","w":13,"v":0.75},{"s":"150 days","w":14,"v":0.77},{"s":"150 days","w":15,"v":0.84},{"s":"150 days","w":16,"v":0.81},{"s":"150 days","w":17,"v":0.51},{"s":"150 days","w":18,"v":1.1},{"s":"150 days","w":19,"v":0.87},{"s":"150 days","w":20,"v":1.12},
      {"s":"150 days","w":21,"v":1.11},{"s":"150 days","w":22,"v":1.1},{"s":"150 days","w":23,"v":1.09},{"s":"150 days","w":24,"v":1.09},{"s":"150 days","w":25,"v":1.08},{"s":"150 days","w":26,"v":1.08},{"s":"150 days","w":27,"v":1.08},{"s":"150 days","w":28,"v":1.07},{"s":"150 days","w":29,"v":1.07},{"s":"150 days","w":30,"v":1.07},
      {"s":"150 days","w":31,"v":1.07},{"s":"150 days","w":32,"v":1.06},{"s":"150 days","w":33,"v":1.06},{"s":"150 days","w":34,"v":1.06},{"s":"150 days","w":35,"v":1.06},{"s":"150 days","w":36,"v":1.06},{"s":"150 days","w":37,"v":1.06},{"s":"150 days","w":38,"v":1.06},{"s":"150 days","w":39,"v":1.06},{"s":"150 days","w":40,"v":1.06},
      {"s":"150 days","w":41,"v":1.06},{"s":"150 days","w":42,"v":1.06},{"s":"150 days","w":43,"v":1.06},{"s":"150 days","w":44,"v":1.06},{"s":"150 days","w":45,"v":1.06},{"s":"150 days","w":46,"v":1.06},{"s":"150 days","w":47,"v":1.06},{"s":"150 days","w":48,"v":1.07},{"s":"150 days","w":49,"v":1.07},{"s":"150 days","w":50,"v":1.1},
      {"s":"150 days","w":51,"v":1.12},{"s":"150 days","w":52,"v":1.18},
      {"s":"182 days","w":1,"v":1.08},{"s":"182 days","w":2,"v":1.09},{"s":"182 days","w":3,"v":1.1},{"s":"182 days","w":4,"v":1.1},{"s":"182 days","w":5,"v":1.1},{"s":"182 days","w":6,"v":1.1},{"s":"182 days","w":7,"v":1.15},{"s":"182 days","w":8,"v":1.18},{"s":"182 days","w":9,"v":1.22},{"s":"182 days","w":10,"v":0.93},
      {"s":"182 days","w":11,"v":0.95},{"s":"182 days","w":12,"v":0.93},{"s":"182 days","w":13,"v":0.92},{"s":"182 days","w":14,"v":0.91},{"s":"182 days","w":15,"v":0.91},{"s":"182 days","w":16,"v":0.9},{"s":"182 days","w":17,"v":0.88},{"s":"182 days","w":18,"v":1.13},{"s":"182 days","w":19,"v":0.85},{"s":"182 days","w":20,"v":1.12},
      {"s":"182 days","w":21,"v":1.11},{"s":"182 days","w":22,"v":1.1},{"s":"182 days","w":23,"v":1.1},{"s":"182 days","w":24,"v":1.09},{"s":"182 days","w":25,"v":1.09},{"s":"182 days","w":26,"v":1.08},{"s":"182 days","w":27,"v":1.08},{"s":"182 days","w":28,"v":1.08},{"s":"182 days","w":29,"v":1.07},{"s":"182 days","w":30,"v":1.07},
      {"s":"182 days","w":31,"v":1.07},{"s":"182 days","w":32,"v":1.07},{"s":"182 days","w":33,"v":1.07},{"s":"182 days","w":34,"v":1.07},{"s":"182 days","w":35,"v":1.07},{"s":"182 days","w":36,"v":1.07},{"s":"182 days","w":37,"v":1.07},{"s":"182 days","w":38,"v":1.07},{"s":"182 days","w":39,"v":1.07},{"s":"182 days","w":40,"v":1.07},
      {"s":"182 days","w":41,"v":1.07},{"s":"182 days","w":42,"v":1.07},{"s":"182 days","w":43,"v":1.07},{"s":"182 days","w":44,"v":1.07},{"s":"182 days","w":45,"v":1.07},{"s":"182 days","w":46,"v":1.07},{"s":"182 days","w":47,"v":1.07},{"s":"182 days","w":48,"v":1.07},{"s":"182 days","w":49,"v":1.07},{"s":"182 days","w":50,"v":1.07},
      {"s":"182 days","w":51,"v":1.07},{"s":"182 days","w":52,"v":1.07}
    ]
  },
  "concat": [
    {
      "width": 316, "height": 258,
      "title": {"text": "All-sky", "offset": 3},
      "layer": [
        {
          "data": {"name": "a"},
          "mark": {"type": "line", "clip": true, "strokeWidth": 1.8},
          "encoding": {
            "x": {"field": "w", "type": "quantitative", "scale": {"domain": [-1.55, 54.55], "nice": false, "zero": false},
                  "axis": {"values": [0, 10, 20, 30, 40, 50], "tickCount": 20, "labels": false, "title": null}},
            "y": {"field": "v", "type": "quantitative", "scale": {"domain": [450, 600], "nice": false, "zero": false},
                  "axis": {"values": [460, 480, 500, 520, 540, 560, 580, 600], "tickCount": 20, "title": ["Nominal", "power (kWₚ)"], "titleLineHeight": 16, "labelPadding": 12, "titlePadding": 8}},
            "color": {"field": "s", "type": "nominal",
                      "scale": {"domain": ["30 days", "60 days", "90 days", "120 days", "150 days", "182 days", "Reported"],
                                "range": ["#4C72B0", "#DD8452", "#55A868", "#C44E52", "#8172B3", "#937860", "#C44E52"]},
                      "legend": {"title": null, "orient": "none", "legendX": 0, "legendY": -85, "columns": 4,
                                 "symbolType": "M-1,0L2.2,0", "symbolSize": 361, "symbolStrokeWidth": 2,
                                 "labelFontSize": 14, "labelOffset": 22, "columnPadding": 96, "rowPadding": 0,
                                 "padding": 6, "strokeColor": "#cccccc", "fillColor": "white", "cornerRadius": 4}},
            "strokeDash": {"field": "s", "type": "nominal",
                           "scale": {"domain": ["30 days", "60 days", "90 days", "120 days", "150 days", "182 days", "Reported"],
                                     "range": [[1, 0], [6, 3], [1.5, 2.5], [4.5, 1.8, 1.5, 1.8], [8, 2.5, 1.5, 2.5], [4, 1.8], [7, 4]]},
                           "legend": {"title": null, "orient": "none", "legendX": 0, "legendY": -85, "columns": 4,
                                      "symbolType": "M-1,0L2.2,0", "symbolSize": 361, "symbolStrokeWidth": 2,
                                      "labelFontSize": 14, "labelOffset": 22, "columnPadding": 96, "rowPadding": 0,
                                      "padding": 6, "strokeColor": "#cccccc", "fillColor": "white", "cornerRadius": 4}}
          }
        },
        {
          "data": {"values": [{"s": "Reported", "v": 553}]},
          "mark": {"type": "rule", "strokeWidth": 2.2},
          "encoding": {
            "y": {"field": "v", "type": "quantitative"},
            "color": {"field": "s", "type": "nominal"},
            "strokeDash": {"field": "s", "type": "nominal"}
          }
        },
        {
          "data": {"values": [{"t": "(a)"}]},
          "mark": {"type": "point", "shape": "M-0.9,-0.75L0.9,-0.75Q1.1,-0.75 1.1,-0.55L1.1,0.55Q1.1,0.75 0.9,0.75L-0.9,0.75Q-1.1,0.75 -1.1,0.55L-1.1,-0.55Q-1.1,-0.75 -0.9,-0.75Z", "size": 460, "filled": true, "fill": "#d4d4d4", "opacity": 1, "strokeWidth": 0},
          "encoding": {"x": {"datum": 26.3, "type": "quantitative"}, "y": {"datum": 460.5, "type": "quantitative"}}
        },
        {
          "data": {"values": [{"t": "(a)"}]},
          "mark": {"type": "text", "font": "Liberation Serif", "fontWeight": "bold", "fontSize": 14, "color": "#1a1a1a", "baseline": "middle", "align": "center"},
          "encoding": {"x": {"datum": 26.3, "type": "quantitative"}, "y": {"datum": 460.5, "type": "quantitative"}, "text": {"field": "t"}}
        }
      ]
    },
    {
      "width": 316, "height": 258,
      "title": {"text": "Clear-sky", "offset": 10},
      "layer": [
        {
          "data": {"name": "b"},
          "mark": {"type": "line", "clip": true, "strokeWidth": 1.8},
          "encoding": {
            "x": {"field": "w", "type": "quantitative", "scale": {"domain": [-1.55, 54.55], "nice": false, "zero": false},
                  "axis": {"values": [0, 10, 20, 30, 40, 50], "tickCount": 20, "labels": false, "title": null}},
            "y": {"field": "v", "type": "quantitative", "scale": {"domain": [450, 600], "nice": false, "zero": false},
                  "axis": {"values": [460, 480, 500, 520, 540, 560, 580, 600], "tickCount": 20, "labels": false, "title": null}},
            "color": {"field": "s", "type": "nominal"},
            "strokeDash": {"field": "s", "type": "nominal"}
          }
        },
        {
          "data": {"values": [{"s": "Reported", "v": 553}]},
          "mark": {"type": "rule", "strokeWidth": 2.2},
          "encoding": {
            "y": {"field": "v", "type": "quantitative"},
            "color": {"field": "s", "type": "nominal"},
            "strokeDash": {"field": "s", "type": "nominal"}
          }
        },
        {
          "data": {"values": [{"t": "(b)"}]},
          "mark": {"type": "point", "shape": "M-0.9,-0.75L0.9,-0.75Q1.1,-0.75 1.1,-0.55L1.1,0.55Q1.1,0.75 0.9,0.75L-0.9,0.75Q-1.1,0.75 -1.1,0.55L-1.1,-0.55Q-1.1,-0.75 -0.9,-0.75Z", "size": 460, "filled": true, "fill": "#d4d4d4", "opacity": 1, "strokeWidth": 0},
          "encoding": {"x": {"datum": 26.4, "type": "quantitative"}, "y": {"datum": 460.5, "type": "quantitative"}}
        },
        {
          "data": {"values": [{"t": "(b)"}]},
          "mark": {"type": "text", "font": "Liberation Serif", "fontWeight": "bold", "fontSize": 14, "color": "#1a1a1a", "baseline": "middle", "align": "center"},
          "encoding": {"x": {"datum": 26.4, "type": "quantitative"}, "y": {"datum": 460.5, "type": "quantitative"}, "text": {"field": "t"}}
        }
      ]
    },
    {
      "width": 316, "height": 258,
      "layer": [
        {
          "data": {"name": "c"},
          "mark": {"type": "line", "clip": true, "strokeWidth": 1.8},
          "encoding": {
            "x": {"field": "w", "type": "quantitative", "scale": {"domain": [-1.55, 54.55], "nice": false, "zero": false},
                  "axis": {"values": [0, 10, 20, 30, 40, 50], "tickCount": 20, "title": "Week", "titleFontSize": 16, "labelPadding": 6, "titlePadding": 6}},
            "y": {"field": "v", "type": "quantitative", "scale": {"domain": [-0.2, 2.0], "nice": false, "zero": false},
                  "axis": {"values": [0, 0.25, 0.5, 0.75, 1, 1.25, 1.5, 1.75, 2], "tickCount": 20, "format": ".2f", "title": "DC to AC", "labelPadding": 12, "titlePadding": 8}},
            "color": {"field": "s", "type": "nominal"},
            "strokeDash": {"field": "s", "type": "nominal"}
          }
        },
        {
          "data": {"values": [{"s": "Reported", "v": 1.04}]},
          "mark": {"type": "rule", "strokeWidth": 2.2},
          "encoding": {
            "y": {"field": "v", "type": "quantitative"},
            "color": {"field": "s", "type": "nominal"},
            "strokeDash": {"field": "s", "type": "nominal"}
          }
        },
        {
          "data": {"values": [{"t": "(c)"}]},
          "mark": {"type": "point", "shape": "M-0.9,-0.75L0.9,-0.75Q1.1,-0.75 1.1,-0.55L1.1,0.55Q1.1,0.75 0.9,0.75L-0.9,0.75Q-1.1,0.75 -1.1,0.55L-1.1,-0.55Q-1.1,-0.75 -0.9,-0.75Z", "size": 460, "filled": true, "fill": "#d4d4d4", "opacity": 1, "strokeWidth": 0},
          "encoding": {"x": {"datum": 26.3, "type": "quantitative"}, "y": {"datum": -0.08, "type": "quantitative"}}
        },
        {
          "data": {"values": [{"t": "(c)"}]},
          "mark": {"type": "text", "font": "Liberation Serif", "fontWeight": "bold", "fontSize": 14, "color": "#1a1a1a", "baseline": "middle", "align": "center"},
          "encoding": {"x": {"datum": 26.3, "type": "quantitative"}, "y": {"datum": -0.08, "type": "quantitative"}, "text": {"field": "t"}}
        }
      ]
    },
    {
      "width": 316, "height": 258,
      "layer": [
        {
          "data": {"name": "d"},
          "mark": {"type": "line", "clip": true, "strokeWidth": 1.8},
          "encoding": {
            "x": {"field": "w", "type": "quantitative", "scale": {"domain": [-1.55, 54.55], "nice": false, "zero": false},
                  "axis": {"values": [0, 10, 20, 30, 40, 50], "tickCount": 20, "title": "Week", "titleFontSize": 16, "labelPadding": 6, "titlePadding": 6}},
            "y": {"field": "v", "type": "quantitative", "scale": {"domain": [-0.2, 2.0], "nice": false, "zero": false},
                  "axis": {"values": [0, 0.25, 0.5, 0.75, 1, 1.25, 1.5, 1.75, 2], "tickCount": 20, "labels": false, "title": null}},
            "color": {"field": "s", "type": "nominal"},
            "strokeDash": {"field": "s", "type": "nominal"}
          }
        },
        {
          "data": {"values": [{"s": "Reported", "v": 1.04}]},
          "mark": {"type": "rule", "strokeWidth": 2.2},
          "encoding": {
            "y": {"field": "v", "type": "quantitative"},
            "color": {"field": "s", "type": "nominal"},
            "strokeDash": {"field": "s", "type": "nominal"}
          }
        },
        {
          "data": {"values": [{"t": "(d)"}]},
          "mark": {"type": "point", "shape": "M-0.9,-0.75L0.9,-0.75Q1.1,-0.75 1.1,-0.55L1.1,0.55Q1.1,0.75 0.9,0.75L-0.9,0.75Q-1.1,0.75 -1.1,0.55L-1.1,-0.55Q-1.1,-0.75 -0.9,-0.75Z", "size": 460, "filled": true, "fill": "#d4d4d4", "opacity": 1, "strokeWidth": 0},
          "encoding": {"x": {"datum": 26.4, "type": "quantitative"}, "y": {"datum": -0.08, "type": "quantitative"}}
        },
        {
          "data": {"values": [{"t": "(d)"}]},
          "mark": {"type": "text", "font": "Liberation Serif", "fontWeight": "bold", "fontSize": 14, "color": "#1a1a1a", "baseline": "middle", "align": "center"},
          "encoding": {"x": {"datum": 26.4, "type": "quantitative"}, "y": {"datum": -0.08, "type": "quantitative"}, "text": {"field": "t"}}
        }
      ]
    }
  ],
  "columns": 2,
  "spacing": {"row": 44, "column": 64}
}
